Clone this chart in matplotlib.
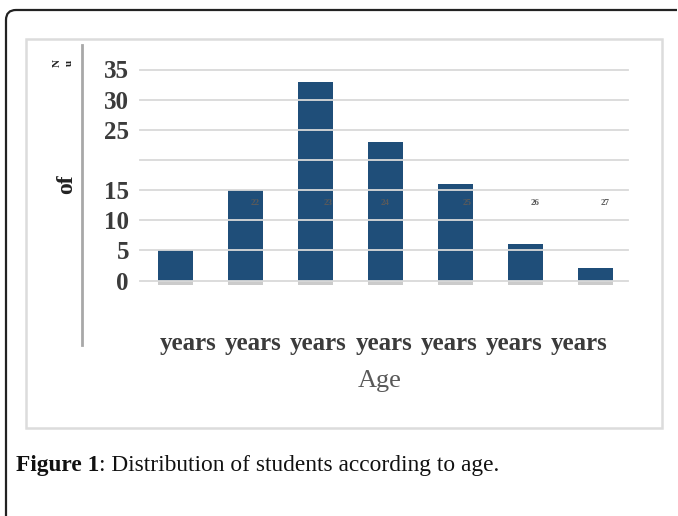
import matplotlib.pyplot as plt
import matplotlib.patheffects as pe
from matplotlib.lines import Line2D
from matplotlib.patches import Rectangle
from matplotlib.path import Path
from matplotlib.patches import PathPatch

# share of students per age group (%)
ages = ['21', '22', '23', '24', '25', '26', '27']
counts = [5, 15, 33, 23, 16, 6, 2]
tick_values = [0, 5, 10, 15, 20, 25, 30, 35]
tick_labels = ['0', '5', '10', '15', '', '25', '30', '35']
x_labels = ['years'] * 7
age_marks = ['22', '23', '24', '25', '26', '27']

W, H = 678, 516
plt.rcParams['font.family'] = ['Liberation Serif', 'DejaVu Serif']

fig = plt.figure(figsize=(W / 100, H / 100), dpi=100)
fig.patch.set_facecolor('white')


def px(x, y):
    # pixel position (from top-left) -> figure fraction
    return x / W, 1 - y / H


# outer frame: top and left edges with a rounded corner
r = 10
verts = [(6 / W, 0.0), (6 / W, 1 - (10 + r) / H),
         (6 / W, 1 - 10 / H), ((6 + r) / W, 1 - 10 / H),
         (677 / W, 1 - 10 / H)]
codes = [Path.MOVETO, Path.LINETO, Path.CURVE3, Path.CURVE3, Path.LINETO]
fig.add_artist(PathPatch(Path(verts, codes), fill=False, lw=1.6,
                         edgecolor='#222222', transform=fig.transFigure))

# light box around the chart area
x0, y0 = px(26, 428)
x1, y1 = px(662, 39)
fig.add_artist(Rectangle((x0, y0), x1 - x0, y1 - y0, fill=False,
                         edgecolor='#dcdcdc', lw=1.8, transform=fig.transFigure))

# plotting area
l, b = px(140, 280.5)
rr, t = px(628, 69.5)
ax = fig.add_axes([l, b, rr - l, t - b])

pos = list(range(len(counts)))
bars = ax.bar(pos, counts, width=0.5, color='#1f4e79', zorder=1, clip_on=False)
for bar in bars:
    bar.set_path_effects([pe.SimplePatchShadow(offset=(0.5, -3), shadow_rgbFace='#555555', alpha=0.3),
                          pe.Normal()])

ax.set_xlim(-0.5, 6.47)
ax.set_ylim(0, 35)
ax.set_yticks(tick_values)
ax.set_yticklabels(tick_labels)
ax.set_axisbelow(False)
ax.yaxis.grid(True, color='#d9d9d9', lw=1.3, clip_on=False)
ax.tick_params(axis='y', length=0, pad=8, labelsize=18, labelcolor='#3b3b3b')
for lab in ax.get_yticklabels():
    lab.set_fontweight('bold')

# category labels sit a bit tighter than the bars
ax.set_xticks([0.19 + 0.93 * i for i in pos])
ax.set_xticklabels(x_labels, fontsize=18, fontweight='bold', color='#3b3b3b')
ax.tick_params(axis='x', length=0, pad=37)
for s in ax.spines.values():
    s.set_visible(False)

# small age numbers beside the bars
mark_shift = [0.14, 0.19, 0.0, 0.17, 0.14, 0.14]
for i, (m, dx) in enumerate(zip(age_marks, mark_shift), start=1):
    ax.text(i + dx, 12.85, m, fontsize=6.5, fontweight='bold', color='#5a5a5a',
            ha='center', va='center', zorder=3)

fig.text(*px(380, 381), 'Age', fontsize=19, color='#595959', ha='center', va='center')

# y axis line and label fragments
ax_line = Line2D([82 / W, 82 / W], [1 - 45 / H, 1 - 345 / H], color='#a8a8a8', lw=2,
                 transform=fig.transFigure)
fig.add_artist(ax_line)
fig.text(*px(67, 184), 'of', fontsize=17, fontweight='bold', rotation=90,
         color='#222222', ha='center', va='center')
fig.text(*px(57, 63), 'N', fontsize=8, fontweight='bold', rotation=90,
         color='#222222', ha='center', va='center')
fig.text(*px(69, 63), 'u', fontsize=8, fontweight='bold', rotation=90,
         color='#222222', ha='center', va='center')

# caption
cx, cy = px(16, 466)
cap = fig.text(cx, cy, 'Figure 1', fontsize=16.8, fontweight='bold', color='#111111',
               ha='left', va='center')
fig.canvas.draw()
bb = cap.get_window_extent()
fig.text(bb.x1 / W, cy, ': Distribution of students according to age.', fontsize=16.8,
         color='#111111', ha='left', va='center')

fig.savefig('out.png', dpi=100)
